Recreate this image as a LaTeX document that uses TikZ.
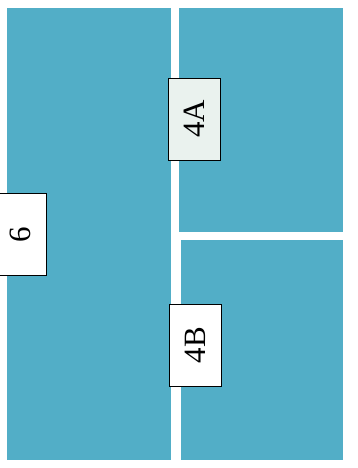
\documentclass[tikz,border=0pt]{standalone}
\usepackage{fontspec}
\setmainfont{Liberation Serif}
\definecolor{RoomBlue}{RGB}{82,174,199}
\definecolor{TagFill} {RGB}{234,242,238}

\begin{document}
\begin{tikzpicture}[
    x=1pt, y=-1pt,
    room/.style={fill=RoomBlue},
    tag/.style={draw=black, fill=TagFill, line width=0.8pt, rotate=90, minimum width=82pt, minimum height=52pt, inner sep=0pt, font=\fontsize{31}{31}\selectfont}
]

    % Frame
    \fill[white] (0,0) rectangle (358,468);
    \useasboundingbox (0,0) rectangle (358,468);

    % Rooms
    \fill[room] (7,8) rectangle (171,460);
    \fill[room] (179,8) rectangle (343,232);
    \fill[room] (181,240) rectangle (343,460);

    % Labels
    \node[tag, fill=white] (r6) at (20,234.5) {6};
    \node[tag] (r4a) at (194,119) {4A};
    \node[tag, fill=white] (r4b) at (195.5,345) {4B};

\end{tikzpicture}
\end{document}
